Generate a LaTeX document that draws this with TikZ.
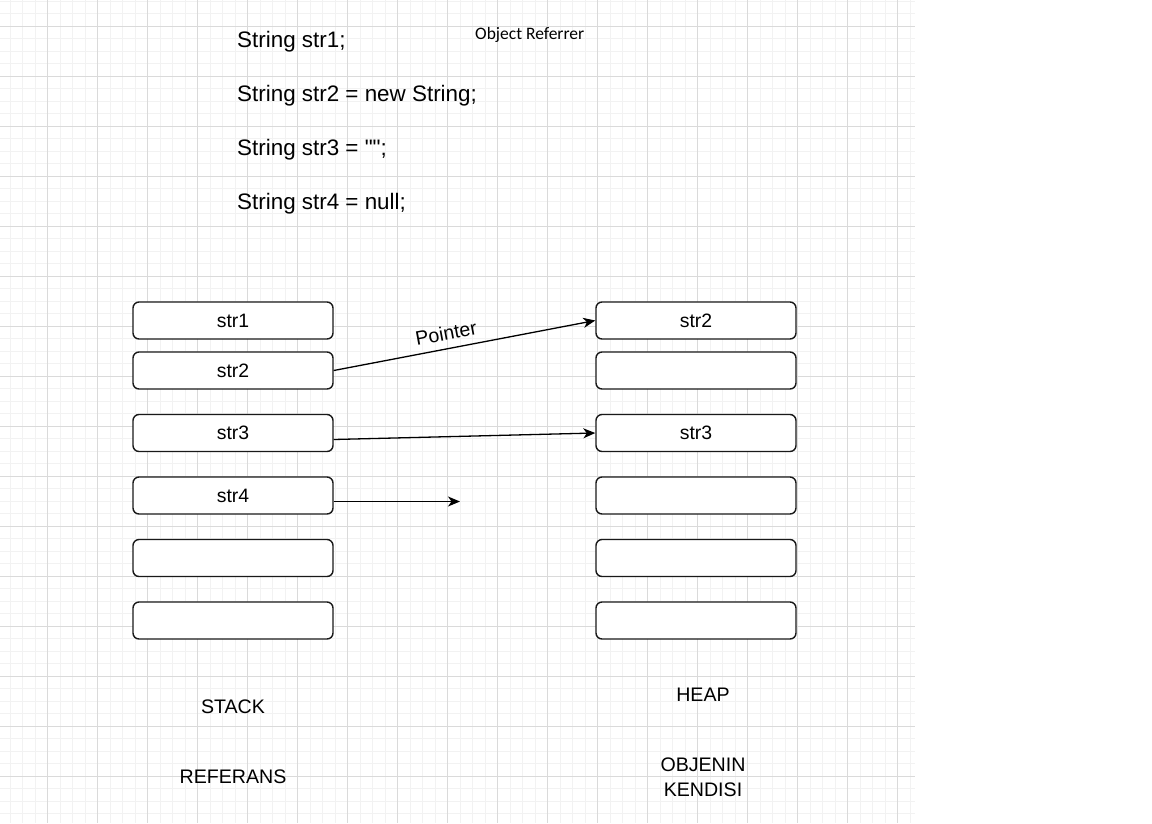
\documentclass[tikz,border=0pt]{standalone}
\usepackage{fontspec}
\setmainfont{Liberation Sans}[Ligatures=TeXOff]
\newfontfamily\calib{Carlito}
\usetikzlibrary{arrows.meta}
\definecolor{gridminor}{RGB}{242,242,242}
\definecolor{gridmajor}{RGB}{218,218,218}
\tikzset{
  cell/.style={draw=black!90, line width=1.4pt, rounded corners=6pt, fill=white,
    minimum width=200pt, minimum height=37pt, inner sep=0pt,
    font=\fontsize{19.4}{22}\selectfont},
  codeline/.style={anchor=base west, inner sep=0pt, font=\fontsize{22.4}{26}\selectfont},
  lbl/.style={inner sep=0pt, align=center, font=\fontsize{19.6}{25}\selectfont},
  ptr/.style={line width=1.3pt, -{Stealth[length=12pt,width=10pt,inset=3.5pt]}}
}
\begin{document}
\begin{tikzpicture}[x=1pt,y=-1pt]
\useasboundingbox (0,0) rectangle (1152,823);
\fill[white] (0,0) rectangle (1152,823);
% grid
\foreach \i in {0,...,72} \draw[gridminor, line width=1pt] ({10+12.5*\i},0) -- ({10+12.5*\i},823);
\foreach \j in {0,...,65} \draw[gridminor, line width=1pt] (0,{1+12.5*\j}) -- (915,{1+12.5*\j});
\foreach \i in {0,...,17} \draw[gridmajor, line width=1pt] ({47.5+50*\i},0) -- ({47.5+50*\i},823);
\foreach \j in {0,...,15} \draw[gridmajor, line width=1pt] (0,{26+50*\j}) -- (915,{26+50*\j});
% code
\node[codeline] (c1) at (237,47) {String str1;};
\node[codeline] (c2) at (237,101) {String str2 = new String;};
\node[codeline] (c3) at (237,155) {String str3 = "";};
\node[codeline] (c4) at (237,209) {String str4 = null;};
\node[anchor=base west, inner sep=0pt, font=\calib\fontsize{17.5}{20}\selectfont] (obj) at (475,39.5) {Object Referrer};
% stack
\node[cell] (s1) at (233,320.5) {str1};
\node[cell] (s2) at (233,370.5) {str2};
\node[cell] (s3) at (233,433) {str3};
\node[cell] (s4) at (233,495.5) {str4};
\node[cell] (s5) at (233,558) {};
\node[cell] (s6) at (233,620.5) {};
% heap
\node[cell] (h1) at (696,320.5) {str2};
\node[cell] (h2) at (696,370.5) {};
\node[cell] (h3) at (696,433) {str3};
\node[cell] (h4) at (696,495.5) {};
\node[cell] (h5) at (696,558) {};
\node[cell] (h6) at (696,620.5) {};
% arrows
\draw[ptr] (s2.east) -- (h1.west);
\node[lbl, rotate=10.5] (pl) at (446,333) {Pointer};
\draw[ptr] ([yshift=-6.5pt]s3.east) -- (h3.west);
\coordinate (nullend) at (460,501.5);
\draw[ptr] ([yshift=-6pt]s4.east) -- (nullend);
% labels
\node[lbl] (stk) at (233,707) {STACK};
\node[lbl] (ref) at (233,777) {REFERANS};
\node[lbl] (hp) at (703,695) {HEAP};
\node[lbl] (obk) at (703,777.5) {OBJENIN\\KENDISI};
\end{tikzpicture}
\end{document}
